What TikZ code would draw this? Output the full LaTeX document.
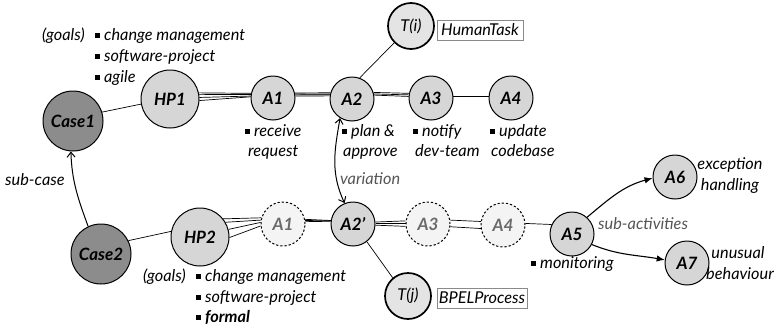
\documentclass[tikz,border=0pt]{standalone}
\usepackage{fontspec}
\setmainfont{Lato}
\usetikzlibrary{arrows.meta}
\definecolor{caseg}{HTML}{8C8C8C}
\definecolor{nodeg}{HTML}{D6D6D6}
\definecolor{tg}{HTML}{E4E4E4}
\definecolor{ghostg}{HTML}{F4F4F4}
\definecolor{ghosttxt}{HTML}{6A6A6A}
\definecolor{notetxt}{HTML}{555555}
\definecolor{boxline}{HTML}{8A8A8A}
\newcommand{\sqb}{\raisebox{0.14em}{\rule{0.27em}{0.27em}}\hspace{0.28em}}
\newcommand{\nodefont}{\fontsize{17}{19}\selectfont\bfseries\itshape}
\newcommand{\txtfont}{\fontsize{16.3}{20}\selectfont\itshape}
\begin{document}
\begin{tikzpicture}[x=1pt,y=1pt,
  basen/.style={circle, draw, line width=1pt, inner sep=0pt, font=\nodefont},
  casen/.style={basen, fill=caseg, minimum size=60pt},
  hpn/.style={basen, fill=nodeg, minimum size=58pt},
  actn/.style={basen, fill=nodeg, minimum size=44pt},
  ghostn/.style={basen, dash pattern=on 2.2pt off 2pt, fill=ghostg, text=ghosttxt, minimum size=44pt},
  tn/.style={circle, draw, line width=1.7pt, fill=tg, inner sep=0pt, minimum size=46pt, font=\txtfont},
  tbox/.style={draw=boxline, line width=0.8pt, minimum height=20pt, inner sep=0pt, font=\txtfont},
  lbl/.style={font=\txtfont, inner sep=0pt},
  note/.style={lbl, text=notetxt},
  conn/.style={line width=0.7pt},
  arr/.style={line width=1.1pt, -{Latex[length=8pt,width=6.5pt]}},
  barb/.style={line width=1pt}
]
\useasboundingbox (0,0) rectangle (781,-327);
\fill[white] (0,0) rectangle (781,-327);

% top row
\node[casen] (case1) at (73,-121) {Case1};
\node[hpn] (hp1) at (170,-99) {HP1};
\node[actn] (a1) at (273,-98) {A1};
\node[actn] (a2) at (352,-99) {A2};
\node[actn] (a3) at (431,-98) {A3};
\node[actn] (a4) at (511,-98) {A4};
\node[tn] (ti) at (411,-26) {T(i)};
\node[tbox, minimum width=86pt] (htask) at (480,-30) {HumanTask};

% bottom row
\node[casen] (case2) at (101,-254) {Case2};
\node[hpn] (hp2) at (200,-237) {HP2};
\node[ghostn] (a1p) at (283,-224) {A1};
\node[actn] (a2p) at (353,-224) {A2’};
\node[ghostn] (a3p) at (428,-224) {A3};
\node[ghostn] (a4p) at (503,-225) {A4};
\node[actn] (a5) at (572,-234) {A5};
\node[actn] (a6) at (675,-177) {A6};
\node[actn] (a7) at (687,-263) {A7};
\node[tn] (tj) at (408,-296) {T(j)};
\node[tbox, minimum width=90pt] (bpel) at (482,-298) {BPELProcess};

% connectors top
\draw[conn] (case1.17) -- (hp1.190);
\foreach \s/\t in {12/168, 9/171, 3/175, -3/177} \draw[conn] (hp1.\s) -- (a1.\t);
\foreach \s/\t in {13/164, 10/167, 8/169, 5/172} \draw[conn] (a1.\s) -- (a2.\t);
\foreach \s/\t in {17/168, 13/172, 10/176} \draw[conn] (a2.\s) -- (a3.\t);
\draw[conn] (a3.5) -- (a4.175);
\draw[conn] (a2.70) -- (ti.225);

% connectors bottom
\draw[conn] (case2.26) -- (hp2.169);
\foreach \s/\t in {38/164, 30/170, 15/176, -1/185} \draw[conn] (hp2.\s) -- (a1p.\t);
\foreach \s/\t in {12/171, 9/172, 6/173} \draw[conn] (a1p.\s) -- (a2p.\t);
\foreach \s/\t in {5/172, 1/179, -3/186} \draw[conn] (a2p.\s) -- (a3p.\t);
\foreach \s/\t in {10/171, -7/189} \draw[conn] (a3p.\s) -- (a4p.\t);
\draw[conn] (a4p.4) -- (a5.155);
\draw[conn] (a2p.-52) -- (tj.130);

% arrows
\draw[barb, -{Straight Barb[length=5pt,width=8pt]}] (case2.115) to[out=110, in=-88] (case1.-94);
\draw[barb, {Straight Barb[length=5pt,width=8pt]}-{Straight Barb[length=5pt,width=8pt]}] (a2.238) to[out=-100, in=115] (a2p.112);
\draw[arr] (a5.48) to[out=40, in=195] (a6.183);
\draw[arr] (a5.-28) to[out=-22, in=170] (a7.172);

% goals top
\node[lbl, anchor=base east] (g1) at (85,-40) {(goals)};
\node[lbl, anchor=base west] (g1a) at (95,-40) {\sqb change management};
\node[lbl, anchor=base west] (g1b) at (95,-61) {\sqb software-project};
\node[lbl, anchor=base west] (g1c) at (95,-82) {\sqb agile};

% goals bottom
\node[lbl, anchor=base east] (g2) at (186,-281) {(goals)};
\node[lbl, anchor=base west] (g2a) at (196,-281) {\sqb change management};
\node[lbl, anchor=base west] (g2b) at (196,-302) {\sqb software-project};
\node[lbl, anchor=base west] (g2c) at (196,-322) {\sqb \textbf{formal}};

% activity labels
\node[lbl, anchor=base west] (l1a) at (245,-136) {\sqb receive};
\node[lbl, anchor=base west] (l1b) at (248,-156) {request};
\node[lbl, anchor=base west] (l2a) at (342,-136) {\sqb plan \&};
\node[lbl, anchor=base west] (l2b) at (343,-156) {approve};
\node[lbl, anchor=base west] (l3a) at (413,-136) {\sqb notify};
\node[lbl, anchor=base west] (l3b) at (415,-156) {dev-team};
\node[lbl, anchor=base west] (l4a) at (490,-136) {\sqb update};
\node[lbl, anchor=base west] (l4b) at (491,-156) {codebase};

\node[note, anchor=base west] (var) at (340,-184) {variation};
\node[lbl, anchor=base west] (subc) at (5,-185) {sub-case};
\node[note, anchor=base west] (suba) at (598,-229) {sub-activities};
\node[lbl, anchor=base west] (mon) at (531,-268) {\sqb monitoring};
\node[lbl, anchor=base] (exc1) at (730,-169) {exception};
\node[lbl, anchor=base] (exc2) at (730,-190) {handling};
\node[lbl, anchor=base] (unu1) at (738,-258) {unusual};
\node[lbl, anchor=base] (unu2) at (740,-279) {behaviour};
\end{tikzpicture}
\end{document}
